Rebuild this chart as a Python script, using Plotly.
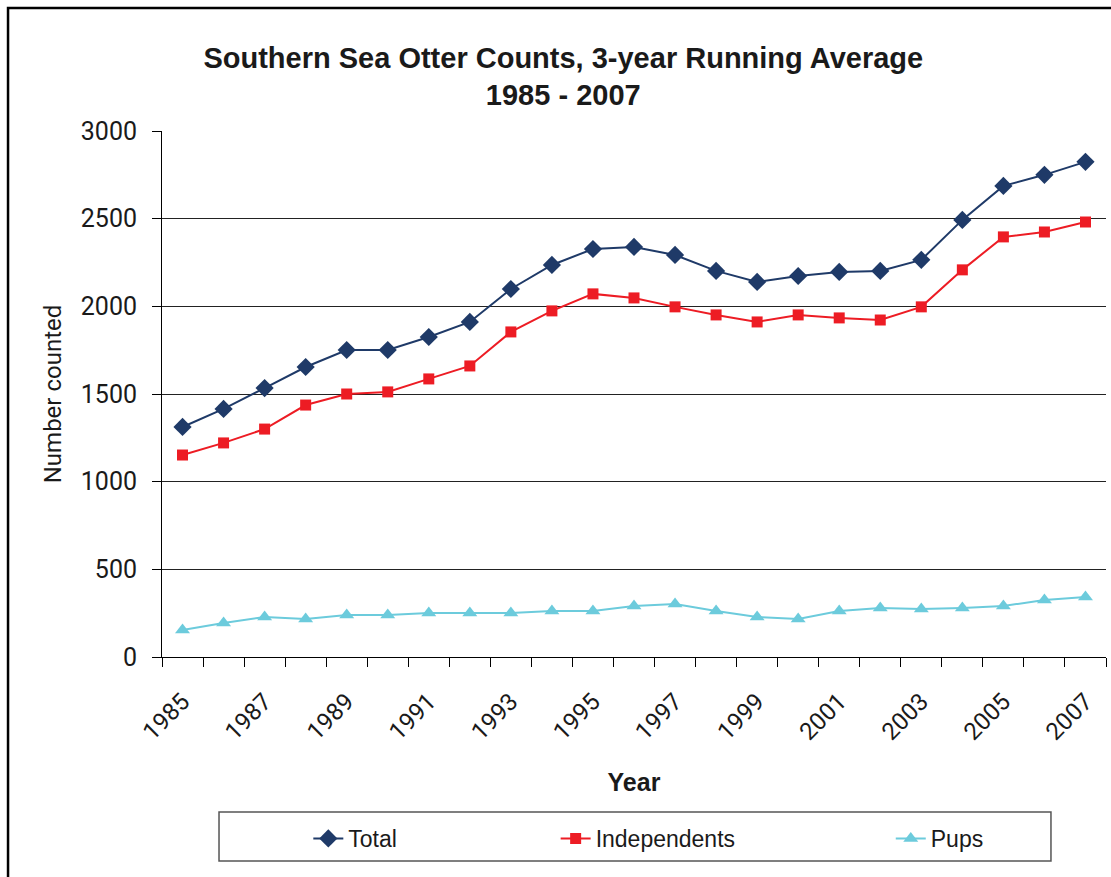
import plotly.graph_objects as go

# Southern sea otter survey, 3-year running averages
years = list(range(1985, 2008))
total = [1312, 1415, 1534, 1654, 1751, 1751, 1825, 1911, 2099, 2236, 2327, 2339,
         2293, 2202, 2139, 2173, 2196, 2202, 2265, 2493, 2687, 2750, 2824]
independents = [1152, 1221, 1300, 1437, 1500, 1512, 1586, 1660, 1854, 1974, 2071, 2048,
                1997, 1951, 1911, 1951, 1934, 1922, 1997, 2208, 2396, 2424, 2481]
pups = [154, 194, 228, 217, 240, 240, 251, 251, 251, 262, 262, 291,
        302, 262, 228, 217, 262, 280, 274, 280, 291, 325, 342]

label_years = years[::2]
boundaries = [y - 0.5 for y in years] + [years[-1] + 0.5]

TXT = "#1a1a1a"
fig = go.Figure()

series = [
    ("Total", total, "#1F3A68", "diamond", 14, "legend"),
    ("Independents", independents, "#ED1C24", "square", 11, "legend2"),
    ("Pups", pups, "#6CCBDC", "triangle-up", 13, "legend3"),
]
for name, vals, color, symbol, size, lg in series:
    fig.add_trace(go.Scatter(
        x=years, y=vals, name=name, mode="lines+markers",
        line=dict(color=color, width=2),
        marker=dict(symbol=symbol, size=size, color=color),
        legend=lg,
    ))

legend_common = dict(
    orientation="h", xanchor="left", yanchor="middle", y=-0.345,
    bgcolor="rgba(0,0,0,0)", borderwidth=0,
    font=dict(family="Liberation Sans, Arial, sans-serif", size=23, color=TXT),
)

fig.update_layout(
    width=1111, height=877,
    margin=dict(l=162, r=5, t=131, b=220),
    paper_bgcolor="white", plot_bgcolor="white",
    showlegend=True,
    legend=dict(x=0.155, **legend_common),
    legend2=dict(x=0.417, **legend_common),
    legend3=dict(x=0.772, **legend_common),
    xaxis=dict(
        range=[years[0] - 0.5, years[-1] + 0.5],
        tickmode="array", tickvals=label_years, ticktext=[str(y) for y in label_years],
        tickangle=-45, ticks="outside", ticklen=0,
        ticklabelstandoff=20,
        tickfont=dict(family="Roboto, sans-serif", size=24, color=TXT),
        minor=dict(tickmode="array", tickvals=boundaries, ticks="outside",
                   ticklen=9, tickcolor="black", tickwidth=1, showgrid=False),
        showline=True, linecolor="black", linewidth=1,
        showgrid=False, zeroline=False,
        title=dict(text="<b>Year</b>", standoff=28,
                   font=dict(family="Liberation Sans, Arial, sans-serif", size=25, color=TXT)),
    ),
    yaxis=dict(
        range=[0, 3000], dtick=500, tick0=0,
        ticks="outside", ticklen=9, tickcolor="black", tickwidth=1,
        ticklabelstandoff=10,
        tickfont=dict(family="Roboto, sans-serif", size=25, color=TXT),
        showline=True, linecolor="black", linewidth=1,
        showgrid=True, gridcolor="#222222", gridwidth=1,
        zeroline=False,
        title=dict(text="Number counted", standoff=12,
                   font=dict(family="Roboto, sans-serif", size=24, color=TXT)),
    ),
    title=dict(
        text="<b>Southern Sea Otter Counts, 3-year Running Average<br>1985 - 2007</b>",
        x=0.507, xanchor="center", xref="container",
        y=0.923, yanchor="middle", yref="container",
        font=dict(family="Liberation Sans, Arial, sans-serif", size=29, color=TXT),
    ),
    shapes=[
        # outer chart frame
        dict(type="rect", xref="paper", yref="paper",
             x0=-0.1631, x1=1.2, y0=-0.7, y1=1.2338,
             line=dict(color="black", width=2.5), fillcolor="rgba(0,0,0,0)", layer="below"),
        # legend box
        dict(type="rect", xref="paper", yref="paper",
             x0=0.0604, x1=0.9417, y0=-0.3878, y1=-0.2947,
             line=dict(color="#555555", width=1.5), fillcolor="rgba(0,0,0,0)"),
    ],
)

fig.write_html("out.html")
